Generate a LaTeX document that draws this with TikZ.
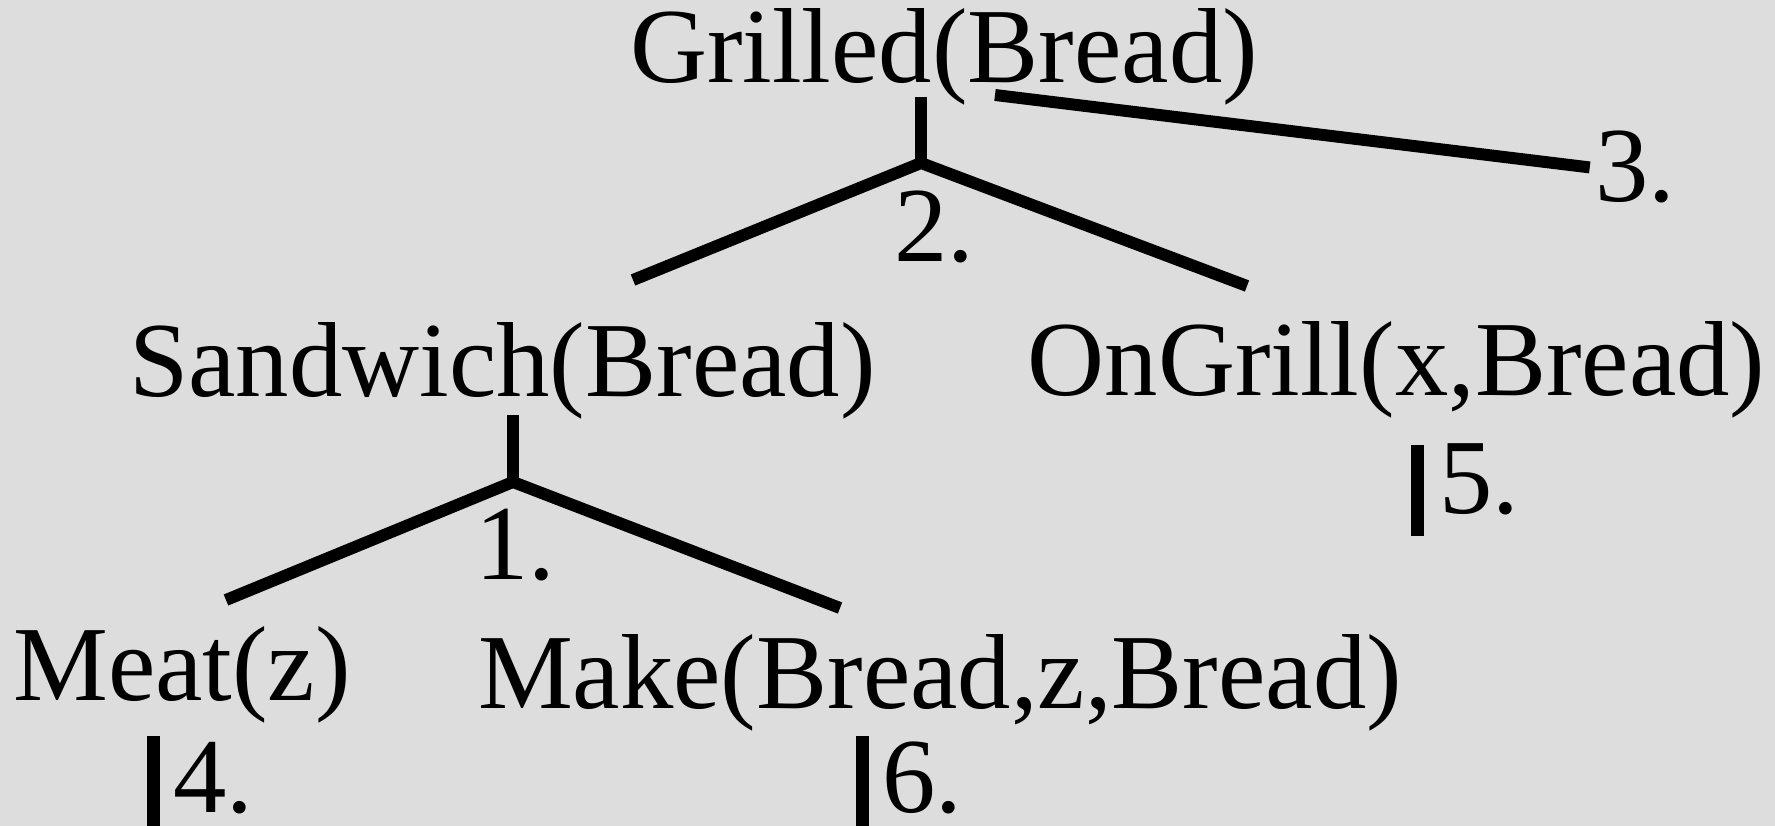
\documentclass[tikz,border=0pt]{standalone}
\usepackage{fontspec}
\setmainfont{Liberation Serif}
\usepackage{xcolor}
\usetikzlibrary{positioning}
\definecolor{bggray}{RGB}{221,221,221}

\begin{document}
\begin{tikzpicture}[
  term/.style={font=\fontsize{60.7}{72}\selectfont, inner sep=0pt, anchor=base},
  numlabel/.style={font=\fontsize{60.7}{72}\selectfont, inner sep=0pt, anchor=base west},
  branch/.style={line width=6.8pt},
  bar/.style={line width=7.4pt}]
\fill[bggray] (0,0) rectangle (35.5,16.52);
\useasboundingbox (0,0) rectangle (35.5,16.52);

% literals
\node[term] (grilled) at (18.88,14.86) {Grilled(Bread)};
\node[term] (sandwich) at (10.05,8.58) {Sandwich(Bread)};
\node[term] (ongrill) at (27.93,8.60) {OnGrill(x,Bread)};
\node[term] (meat) at (3.64,2.50) {Meat(z)};
\node[term] (make) at (18.80,2.34) {Make(Bread,z,Bread)};

% step numbers
\node[term] (two) at (18.68,11.28) {2.};
\node[term] (one) at (10.30,4.92) {1.};
\node[numlabel] (three) at (31.90,12.48) {3.};
\node[numlabel] (five) at (28.78,6.24) {5.};
\node[numlabel] (four) at (3.46,0.26) {4.};
\node[numlabel] (six) at (17.64,0.26) {6.};

% joints
\coordinate (top2) at (18.42,14.58);
\coordinate (fork2) at (18.42,13.26);
\coordinate (left2) at (12.66,10.92);
\coordinate (right2) at (24.94,10.80);
\coordinate (top1) at (10.26,8.22);
\coordinate (fork1) at (10.26,6.88);
\coordinate (left1) at (4.52,4.52);
\coordinate (right1) at (16.80,4.36);
\coordinate (from3) at (19.90,14.62);

\draw[branch] (top2) -- (fork2);
\draw[branch] (left2) -- (fork2) -- (right2);
\draw[branch] (top1) -- (fork1);
\draw[branch] (left1) -- (fork1) -- (right1);
\draw[branch] (from3) -- ([xshift=-3pt]three.west);

\draw[bar] ([shift={(-0.44,-0.44)}]five.base west) -- ++(0,1.82);
\draw[bar] ([shift={(-0.40,-0.44)}]four.base west) -- ++(0,1.98);
\draw[bar] ([shift={(-0.40,-0.44)}]six.base west) -- ++(0,1.98);
\end{tikzpicture}
\end{document}
